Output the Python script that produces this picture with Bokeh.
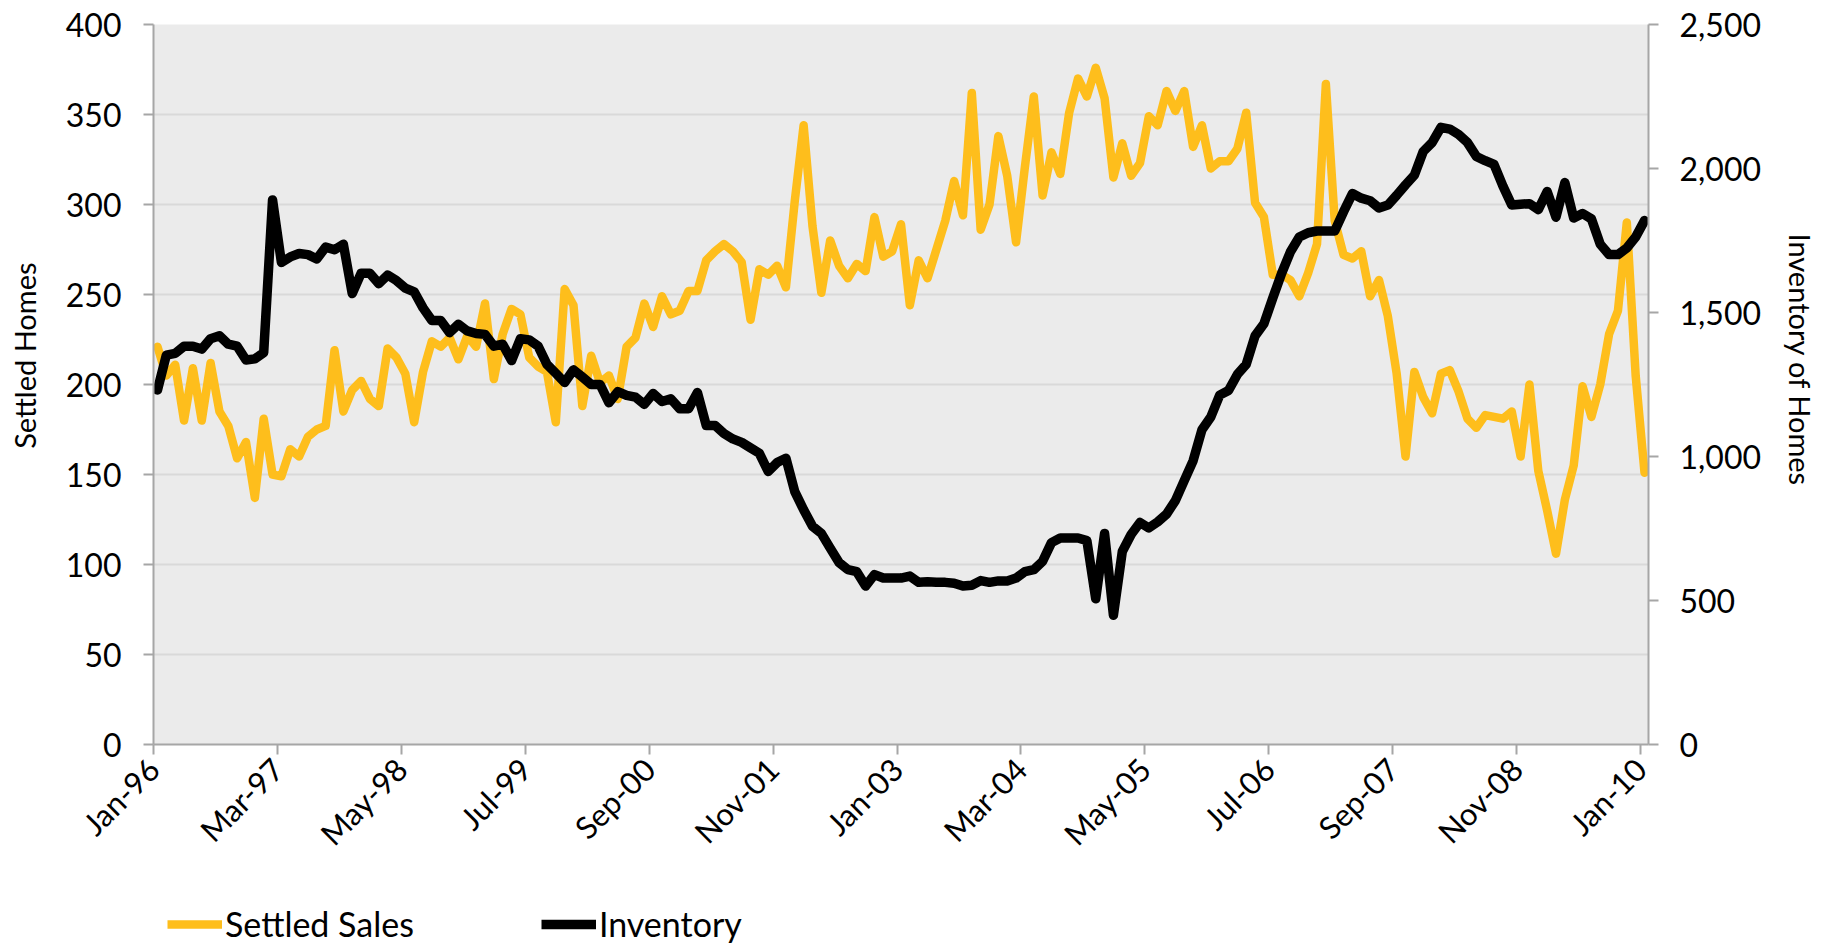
import math
from bokeh.plotting import figure
from bokeh.layouts import column
from bokeh.models import (Range1d, LinearAxis, FixedTicker, Legend, LegendItem,
                          ColumnDataSource, NumeralTickFormatter, Title)
from bokeh.embed import file_html
from bokeh.resources import INLINE

# ---------------- data (monthly, Jan-96 .. Jan-10) ----------------
tick_labels = ["Jan-96", "Mar-97", "May-98", "Jul-99", "Sep-00", "Nov-01", "Jan-03",
               "Mar-04", "May-05", "Jul-06", "Sep-07", "Nov-08", "Jan-10"]

settled_sales = [
    221, 205, 211, 180, 209, 180, 212, 185, 177, 159, 168, 137, 181, 150, 149, 164,
    160, 171, 175, 177, 219, 185, 197, 202, 192, 188, 220, 215,
    206, 179, 207, 224, 221, 226, 214, 227, 221, 245, 203, 228, 242, 239, 215, 210,
    207, 179, 253, 244, 188, 216, 201, 205, 192, 221, 226, 245,
    232, 249, 239, 241, 252, 252, 269, 274, 278, 274, 268, 236, 264, 261, 266, 254,
    302, 344, 288, 251, 280, 266, 259, 267, 263, 293, 271, 274,
    289, 244, 269, 259, 275, 291, 313, 294, 362, 286, 300, 338, 316, 279, 321, 360,
    305, 329, 317, 351, 370, 360, 376, 359, 315, 334, 316, 323,
    349, 344, 363, 352, 363, 332, 344, 320, 324, 324, 331, 351, 301, 293, 261, 261,
    258, 249, 262, 278, 367, 291, 272, 270, 274, 249, 258, 238,
    206, 160, 207, 193, 184, 206, 208, 196, 181, 176, 183, 182, 181, 185, 160, 200,
    152, 130, 106, 136, 155, 199, 182, 200, 228, 241, 290, 205, 151,
]

inventory = [
    1231, 1352, 1358, 1383, 1383, 1373, 1409, 1419, 1390, 1383, 1335, 1339, 1361, 1891,
    1674, 1693, 1705, 1701, 1686, 1727, 1718, 1737, 1566, 1636, 1636, 1600, 1630, 1611,
    1585, 1572, 1516, 1472, 1472, 1430, 1459, 1436, 1427, 1424, 1383, 1390, 1333, 1409,
    1405, 1383, 1320, 1289, 1257, 1301, 1276, 1250, 1250, 1187, 1225, 1212, 1206, 1181,
    1219, 1191, 1200, 1166, 1166, 1222, 1108, 1108, 1080, 1061, 1049, 1030, 1011, 948,
    979, 994, 878, 815, 758, 733, 682, 632, 607, 600, 550, 590, 578, 578,
    578, 585, 563, 565, 563, 563, 560, 550, 553, 569, 563, 568, 568, 578,
    600, 607, 636, 701, 717, 717, 717, 708, 506, 733, 449, 670, 729, 771,
    752, 773, 800, 847, 916, 985, 1093, 1137, 1213, 1229, 1285, 1320, 1419, 1461,
    1550, 1636, 1711, 1762, 1777, 1783, 1783, 1783, 1850, 1913, 1897, 1888, 1863, 1873,
    1907, 1943, 1977, 2059, 2090, 2143, 2137, 2118, 2090, 2042, 2027, 2014, 1939, 1873,
    1876, 1878, 1857, 1920, 1831, 1951, 1828, 1844, 1825, 1737, 1701, 1701, 1724, 1762,
    1819,
]

series_names = ["Settled Sales", "Inventory"]

n = len(settled_sales)
# points sit mid-month; ticks at the start of the labelled month
month_pos = [i + 0.45 for i in range(n)]
tick_pos = [14 * k for k in range(len(tick_labels))]

FONT = "Lato"
GOLD = "#FEBE1C"
SALES_W, INV_W = 8.5, 9.5

src = ColumnDataSource(dict(x=month_pos, sales=settled_sales, inv=inventory))

W = 1821
H_MAIN = 880
H_LEG = 64

p = figure(width=W, height=H_MAIN, output_backend="svg", toolbar_location=None,
           x_range=Range1d(0, 168.9), y_range=Range1d(0, 400),
           min_border_left=153, min_border_right=W - 1648, min_border_top=24,
           min_border_bottom=H_MAIN - 744)
p.extra_y_ranges = {"inv": Range1d(0, 2500)}
p.background_fill_color = "#EBEBEB"
p.border_fill_color = "white"
p.outline_line_color = None

# grid
p.xgrid.visible = False
p.ygrid.grid_line_color = "#D9D9D9"
p.ygrid.grid_line_width = 2

AX = "#A6A6A6"

def style_axis(ax, size="32px"):
    ax.axis_line_color = AX
    ax.axis_line_width = 2
    ax.major_tick_line_color = AX
    ax.major_tick_line_width = 2
    ax.major_tick_out = 10
    ax.major_tick_in = 0
    ax.minor_tick_line_color = None
    ax.major_label_text_font = FONT
    ax.major_label_text_font_size = size
    ax.major_label_text_color = "black"

def gap_axis(px, **kw):
    # a fully transparent axis, used only as a spacer between labels and title
    return LinearAxis(ticker=FixedTicker(ticks=[0]), major_label_overrides={0: ""},
                      axis_line_alpha=0, major_tick_line_alpha=0,
                      minor_tick_line_alpha=0, major_label_text_alpha=0,
                      major_tick_out=px, major_tick_in=0, minor_tick_out=0,
                      minor_tick_in=0, major_label_standoff=0,
                      major_label_text_font_size="1px", **kw)

# left axis
yl = p.yaxis[0]
yl.ticker = FixedTicker(ticks=list(range(0, 401, 50)))
style_axis(yl)
yl.major_label_standoff = 22

# right axis
yr = LinearAxis(y_range_name="inv",
                ticker=FixedTicker(ticks=list(range(0, 2501, 500))),
                formatter=NumeralTickFormatter(format="0,0"))
style_axis(yr)
yr.major_label_standoff = 21
p.add_layout(yr, "right")

p.add_layout(gap_axis(21), "left")
p.add_layout(gap_axis(18, y_range_name="inv"), "right")

# axis titles (placed above the plot's middle, as in the source)
p.add_layout(Title(text="Settled Homes", align="right", offset=238, standoff=0,
                   text_font=FONT, text_font_size="29px", text_font_style="normal",
                   text_color="black"), "left")
p.add_layout(Title(text="Inventory of Homes", align="left", offset=209, standoff=0,
                   text_font=FONT, text_font_size="29px", text_font_style="normal",
                   text_color="black"), "right")

# bottom axis
xa = p.xaxis[0]
xa.ticker = FixedTicker(ticks=tick_pos)
xa.major_label_overrides = {t: lab for t, lab in zip(tick_pos, tick_labels)}
style_axis(xa, "31px")
xa.major_label_orientation = math.pi / 4
xa.major_label_standoff = 9

# lines
p.line("x", "sales", source=src, line_color=GOLD, line_width=SALES_W,
       line_join="round", line_cap="round")
p.line("x", "inv", source=src, y_range_name="inv", line_color="black",
       line_width=INV_W, line_join="round", line_cap="round")

# ---------------- legend strip under the chart ----------------
# (same series drawn again, far outside this strip's visible range: only
#  their legend keys show)
pl = figure(width=W, height=H_LEG, output_backend="svg", toolbar_location=None,
            x_range=Range1d(0, 168.9), y_range=Range1d(90000, 90001),
            x_axis_type=None, y_axis_type=None, min_border=0)
pl.grid.visible = False
pl.outline_line_color = None
pl.background_fill_color = "white"
pl.border_fill_color = "white"
k_sales = pl.line("x", "sales", source=src, line_color=GOLD, line_width=SALES_W)
k_inv = pl.line("x", "inv", source=src, line_color="black", line_width=INV_W)

legend = Legend(items=[LegendItem(label=series_names[0], renderers=[k_sales]),
                       LegendItem(label=series_names[1], renderers=[k_inv])],
                orientation="horizontal", location=(14, 0),
                glyph_width=55, glyph_height=38, label_standoff=3, spacing=127,
                padding=0, margin=0, border_line_color=None,
                background_fill_alpha=0,
                label_text_font=FONT, label_text_font_size="34px",
                label_text_color="black")
pl.add_layout(legend)

open("out.html", "w").write(file_html(column(p, pl, spacing=0), INLINE))
